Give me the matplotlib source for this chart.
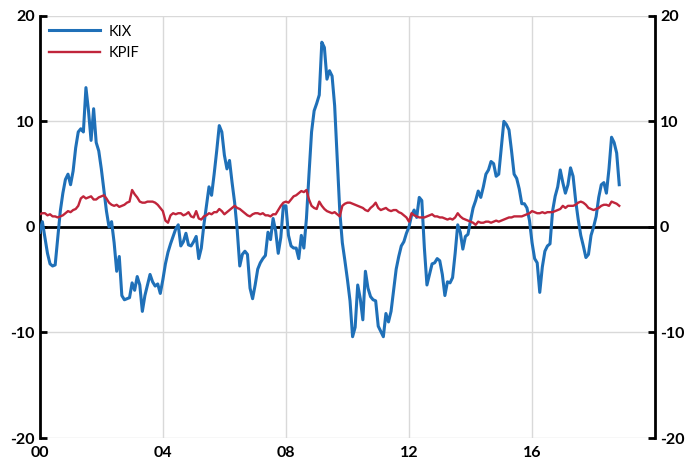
import numpy as np
import matplotlib
matplotlib.use("Agg")
import matplotlib.pyplot as plt

plt.rcParams['font.family'] = ['Lato', 'DejaVu Sans']
plt.rcParams['axes.unicode_minus'] = False

# Monthly data, Jan 2000 - Nov 2018
kix = [
    -0.5, 0.5, -1.0, -2.5, -3.5, -3.7, -3.6, -1.0, 1.5, 3.2, 4.5, 5.0,      # 2000
    4.0, 5.3, 7.5, 9.0, 9.3, 9.0, 13.2, 11.0, 8.2, 11.2, 8.0, 7.2,          # 2001
    5.5, 3.5, 1.5, 0.0, 0.5, -1.5, -4.2, -2.8, -6.5, -6.9, -6.8, -6.7,     # 2002
    -5.3, -6.0, -4.7, -5.5, -8.0, -6.5, -5.5, -4.5, -5.2, -5.6, -5.4, -6.3, # 2003
    -5.0, -3.5, -2.4, -1.6, -0.9, -0.2, 0.2, -1.8, -1.4, -0.6, -1.7, -1.8,  # 2004
    -1.4, -0.9, -3.0, -2.0, 0.2, 2.0, 3.8, 3.0, 5.0, 7.2, 9.6, 9.0,         # 2005
    6.8, 5.5, 6.3, 4.2, 2.3, -0.3, -3.7, -2.6, -2.3, -2.6, -5.8, -6.8,      # 2006
    -5.5, -4.0, -3.4, -3.0, -2.7, -0.5, -1.2, 0.8, -0.4, -2.5, -1.0, 2.0,   # 2007
    2.0, -0.8, -1.8, -2.0, -2.0, -3.0, -0.8, -2.0, 0.8, 5.0, 9.0, 11.0,     # 2008
    11.7, 12.5, 17.5, 17.0, 14.0, 14.8, 14.3, 11.5, 6.5, 1.5, -1.5, -3.2,   # 2009
    -5.0, -7.0, -10.4, -9.5, -5.5, -6.8, -8.8, -4.2, -5.8, -6.6, -6.9, -7.0, # 2010
    -9.4, -9.9, -10.4, -8.2, -9.0, -8.0, -6.0, -4.0, -2.8, -1.8, -1.4, -0.6, # 2011
    0.0, 1.1, 1.6, 0.9, 2.8, 2.5, -2.0, -5.5, -4.5, -3.5, -3.4, -3.0,       # 2012
    -3.2, -4.5, -6.5, -5.2, -5.3, -4.8, -2.5, 0.2, -0.5, -2.1, -0.9, -0.7,  # 2013
    0.6, 1.8, 2.5, 3.4, 2.8, 3.8, 5.0, 5.4, 6.2, 6.0, 4.8, 5.0,             # 2014
    7.5, 10.0, 9.7, 9.2, 7.2, 5.0, 4.6, 3.6, 2.2, 2.2, 1.8, 0.6,            # 2015
    -1.5, -3.0, -3.4, -6.2, -3.8, -2.3, -1.8, -1.6, 1.5, 2.9, 3.8, 5.4,     # 2016
    4.2, 3.2, 4.0, 5.6, 4.8, 2.5, 0.7, -0.8, -1.8, -2.9, -2.6, -0.8,        # 2017
    0.0, 1.0, 2.8, 4.0, 4.2, 3.2, 5.5, 8.5, 8.0, 7.0, 4.0,                  # 2018
]
kpif = [
    1.2, 1.3, 1.3, 1.1, 1.2, 1.0, 1.0, 0.9, 1.0, 1.1, 1.3, 1.5,   # 2000
    1.4, 1.6, 1.7, 2.0, 2.7, 2.9, 2.7, 2.8, 2.9, 2.6, 2.6, 2.8,   # 2001
    2.9, 3.0, 2.7, 2.3, 2.1, 2.0, 2.1, 1.9, 2.0, 2.1, 2.3, 2.4,   # 2002
    3.5, 3.1, 2.8, 2.4, 2.3, 2.3, 2.4, 2.4, 2.4, 2.3, 2.1, 1.8,   # 2003
    1.5, 0.6, 0.4, 1.1, 1.3, 1.2, 1.3, 1.3, 1.1, 1.2, 1.4, 1.0,   # 2004
    0.9, 1.5, 0.8, 0.7, 1.0, 1.1, 1.3, 1.2, 1.4, 1.4, 1.7, 1.5,   # 2005
    1.2, 1.4, 1.6, 1.8, 2.0, 1.8, 1.7, 1.5, 1.3, 1.1, 1.0, 1.2,   # 2006
    1.3, 1.3, 1.2, 1.3, 1.1, 1.1, 1.0, 1.2, 1.2, 1.6, 2.0, 2.3,   # 2007
    2.4, 2.3, 2.6, 2.9, 3.0, 3.2, 3.4, 3.3, 3.5, 2.6, 2.0, 1.8,   # 2008
    1.7, 2.4, 2.0, 1.7, 1.5, 1.4, 1.3, 1.4, 1.2, 1.0, 2.0, 2.2,   # 2009
    2.3, 2.3, 2.2, 2.1, 2.0, 1.9, 1.8, 1.6, 1.5, 1.8, 2.0, 2.3,   # 2010
    1.8, 1.6, 1.7, 1.8, 1.6, 1.5, 1.6, 1.6, 1.4, 1.3, 1.1, 0.9,   # 2011
    0.5, 1.3, 1.1, 1.0, 0.9, 0.9, 0.9, 1.0, 1.1, 1.2, 1.0, 1.0,   # 2012
    0.9, 0.9, 0.8, 0.7, 0.8, 0.7, 0.9, 1.3, 1.0, 0.8, 0.7, 0.6,   # 2013
    0.5, 0.4, 0.2, 0.5, 0.4, 0.4, 0.5, 0.5, 0.4, 0.5, 0.6, 0.5,   # 2014
    0.6, 0.7, 0.8, 0.9, 0.9, 1.0, 1.0, 1.0, 1.0, 1.1, 1.2, 1.3,   # 2015
    1.5, 1.4, 1.3, 1.3, 1.4, 1.3, 1.4, 1.4, 1.4, 1.5, 1.6, 1.7,   # 2016
    2.0, 1.8, 2.0, 2.0, 2.0, 2.1, 2.3, 2.4, 2.3, 2.1, 1.8, 1.7,   # 2017
    1.6, 1.7, 1.8, 2.0, 2.1, 2.1, 2.0, 2.4, 2.3, 2.2, 2.0,        # 2018
]
xtick_years = [2000, 2004, 2008, 2012, 2016]
xtick_labels = ["00", "04", "08", "12", "16"]

t = 2000 + np.arange(len(kix)) / 12.0

blue = "#1f70b8"
red = "#c0253b"

fig = plt.figure(figsize=(6.86, 4.66), dpi=100)
ax = fig.add_axes([0.058, 0.06, 0.897, 0.906])

ax.set_xlim(2000, 2020)
ax.set_ylim(-20, 20)
ax.set_yticks([-20, -10, 0, 10, 20])
ax.set_xticks(xtick_years)
ax.set_xticklabels(xtick_labels)

for y in [-20, -10, 10, 20]:
    ax.axhline(y, color="#d9d9d9", lw=1, zorder=0)
for x in xtick_years[1:]:
    ax.axvline(x, color="#d9d9d9", lw=1, zorder=0)

ax.axhline(0, color="black", lw=2, zorder=2)
ax.plot(t, kix, color=blue, lw=2.2, label="KIX", zorder=3)
ax.plot(t, kpif, color=red, lw=1.7, label="KPIF", zorder=3)

for s in ["top", "bottom", "right"]:
    ax.spines[s].set_visible(False)
ax.spines["left"].set_linewidth(2)
ax.tick_params(axis="y", direction="in", length=5, width=2, labelsize=11.5)
ax.tick_params(axis="x", length=0, labelsize=11.5, pad=6)
for lab in ax.get_yticklabels() + ax.get_xticklabels():
    lab.set_fontweight("bold")

ax2 = ax.twinx()
ax2.set_ylim(-20, 20)
ax2.set_yticks([-20, -10, 0, 10, 20])
for s in ["top", "bottom", "left"]:
    ax2.spines[s].set_visible(False)
ax2.spines["right"].set_linewidth(2)
ax2.tick_params(axis="y", direction="in", length=5, width=2, labelsize=11.5)
for lab in ax2.get_yticklabels():
    lab.set_fontweight("bold")

ax.legend(loc="upper left", frameon=False, fontsize=10.5, handlelength=3.5,
          borderaxespad=0.2, handletextpad=0.6, labelspacing=0.5)

plt.savefig("out.png", dpi=100)
